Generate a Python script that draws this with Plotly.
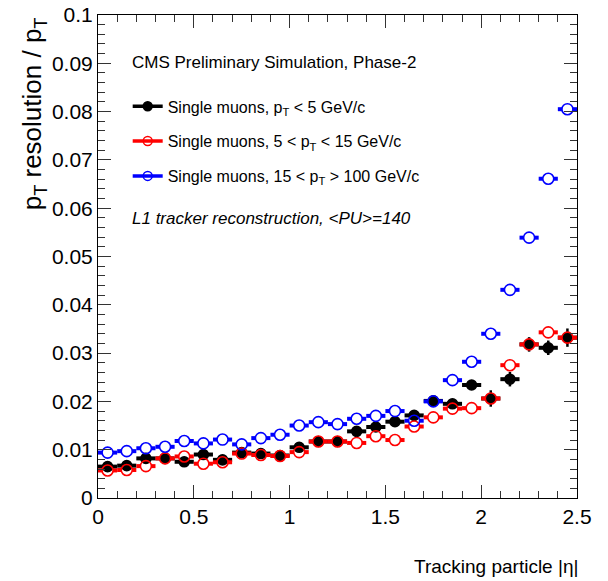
import plotly.graph_objects as go

# ---- data ----
eta = [0.05, 0.15, 0.25, 0.35, 0.45, 0.55, 0.65, 0.75, 0.85, 0.95,
       1.05, 1.15, 1.25, 1.35, 1.45, 1.55, 1.65, 1.75, 1.85, 1.95,
       2.05, 2.15, 2.25, 2.35, 2.45]
half_bin = 0.05

res_low = [0.0065, 0.0067, 0.0082, 0.0082, 0.0075, 0.0090, 0.0079, 0.0094, 0.0092, 0.0088,
           0.0105, 0.0117, 0.0117, 0.0138, 0.0147, 0.0158, 0.0171, 0.0201, 0.0195, 0.0234,
           0.0206, 0.0246, 0.0318, 0.0311, 0.0332]
err_low = [0.0003, 0.0003, 0.0003, 0.0003, 0.0003, 0.0003, 0.0003, 0.0003, 0.0003, 0.0003,
           0.0004, 0.0004, 0.0004, 0.0005, 0.0005, 0.0006, 0.0006, 0.0008, 0.0008, 0.0010,
           0.0017, 0.0015, 0.0015, 0.0015, 0.0019]
res_mid = [0.0057, 0.0058, 0.0066, 0.0082, 0.0086, 0.0071, 0.0074, 0.0092, 0.0089, 0.0087,
           0.0095, 0.0117, 0.0117, 0.0114, 0.0128, 0.0120, 0.0148, 0.0167, 0.0185, 0.0186,
           0.0206, 0.0275, 0.0318, 0.0343, 0.0332]
res_high = [0.0094, 0.0097, 0.0103, 0.0106, 0.0118, 0.0113, 0.0121, 0.0111, 0.0124, 0.0131,
            0.0150, 0.0157, 0.0153, 0.0164, 0.0170, 0.0180, 0.0160, 0.0200, 0.0244, 0.0282,
            0.0340, 0.0431, 0.0539, 0.0661, 0.0805]

names = ["Single muons, p<sub>T</sub> &lt; 5 GeV/c",
         "Single muons, 5 &lt; p<sub>T</sub> &lt; 15 GeV/c",
         "Single muons, 15 &lt; p<sub>T</sub> &gt; 100 GeV/c"]
colors = ["#000000", "#ff0000", "#0000ff"]

FONT = "Liberation Sans Narrow, Liberation Sans, Arial, sans-serif"
MSIZE = 11
GAP = 0.028  # half-width of the marker in x units (bar leaves a gap for open markers)


def bar_segments(xs, ys, gap):
    bx, by = [], []
    for xc, v in zip(xs, ys):
        if gap > 0:
            bx += [xc - half_bin, xc - gap, None, xc + gap, xc + half_bin, None]
            by += [v, v, None, v, v, None]
        else:
            bx += [xc - half_bin, xc + half_bin, None]
            by += [v, v, None]
    return bx, by


fig = go.Figure()

series = [(res_low, err_low, True), (res_mid, None, False), (res_high, None, False)]
for i, (vals, errs, filled) in enumerate(series):
    c = colors[i]
    bx, by = bar_segments(eta, vals, 0 if filled else GAP)
    fig.add_trace(go.Scatter(x=bx, y=by, mode="lines", line=dict(color=c, width=4),
                             showlegend=False, hoverinfo="skip"))
    marker = dict(size=10 if filled else MSIZE, color=c,
                  symbol="circle" if filled else "circle-open",
                  line=dict(color=c, width=1.6))
    fig.add_trace(go.Scatter(
        x=eta, y=vals, mode="markers", marker=marker, showlegend=False,
        error_y=dict(type="data", array=errs, color=c, thickness=2.5, width=0, visible=errs is not None),
    ))

# legend entries (line + marker, like the ROOT legend)
for i in range(3):
    c = colors[i]
    filled = i == 0
    fig.add_trace(go.Scatter(
        x=[None], y=[None], mode="lines+markers", name=names[i], legendgroup=f"g{i}",
        line=dict(color=c, width=3.5),
        marker=dict(size=9, symbol="circle" if filled else "circle-open",
                    color=c, line=dict(color=c, width=1.5)),
    ))

TXT = 17
LEG = 16
fig.update_layout(
    width=608, height=581,
    margin=dict(l=98, r=31, t=15, b=83, autoexpand=False),
    paper_bgcolor="white", plot_bgcolor="white",
    font=dict(family=FONT, size=TXT, color="black"),
    showlegend=True,
    legend=dict(x=0.062, y=0.846, xanchor="left", yanchor="top",
                bgcolor="rgba(0,0,0,0)", font=dict(size=LEG, family=FONT),
                tracegroupgap=11, itemwidth=30),
)

fig.update_xaxes(
    range=[0, 2.5], showgrid=False, zeroline=False, automargin=False,
    showline=True, linecolor="black", linewidth=1, mirror="ticks",
    ticks="inside", ticklen=13, tickcolor="#333", tickwidth=1,
    tickvals=[0, 0.5, 1, 1.5, 2, 2.5], ticktext=["0", "0.5", "1", "1.5", "2", "2.5"],
    minor=dict(ticks="inside", ticklen=7, dtick=0.1, tickcolor="#333", showgrid=False),
    tickfont=dict(size=21, family=FONT),
)
fig.update_yaxes(
    range=[0, 0.1], showgrid=False, zeroline=False, automargin=False,
    showline=True, linecolor="black", linewidth=1, mirror="ticks",
    ticks="inside", ticklen=13, tickcolor="#333", tickwidth=1,
    tickvals=[0, 0.01, 0.02, 0.03, 0.04, 0.05, 0.06, 0.07, 0.08, 0.09, 0.1],
    ticktext=["0", "0.01", "0.02", "0.03", "0.04", "0.05", "0.06", "0.07", "0.08", "0.09", "0.1"],
    minor=dict(ticks="inside", ticklen=7, dtick=0.002, tickcolor="#333", showgrid=False),
    tickfont=dict(size=21, family=FONT),
)

# axis titles (ROOT style: aligned to the axis end)
fig.add_annotation(text="p<sub>T</sub> resolution / p<sub>T</sub>", textangle=-90,
                   xref="paper", yref="paper", x=-0.134, y=1.0, xanchor="center", yanchor="top",
                   showarrow=False, font=dict(size=26, family=FONT))
fig.add_annotation(text="Tracking particle |η|", xref="paper", yref="paper",
                   x=1.007, y=-0.141, xanchor="right", yanchor="middle",
                   showarrow=False, font=dict(size=19, family=FONT))

fig.add_annotation(text="CMS Preliminary Simulation, Phase-2", xref="paper", yref="paper",
                   x=0.066, y=0.902, xanchor="left", yanchor="middle",
                   showarrow=False, font=dict(size=TXT, family=FONT))
fig.add_annotation(text="<i>L1 tracker reconstruction, &lt;PU&gt;=140</i>", xref="paper", yref="paper",
                   x=0.066, y=0.578, xanchor="left", yanchor="middle",
                   showarrow=False, font=dict(size=TXT, family=FONT))

fig.write_html("out.html")
